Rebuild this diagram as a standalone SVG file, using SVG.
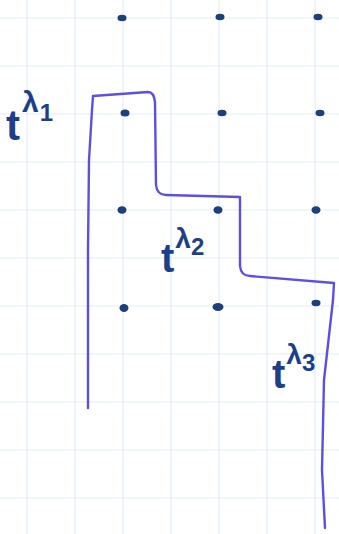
<svg xmlns="http://www.w3.org/2000/svg" width="339" height="534" viewBox="0 0 339 534">
<style>
.grid line{stroke:#e2eef6;stroke-width:1.2}
.dot{fill:#1d3f7a}
.pen{fill:none;stroke:#5b4fe6;stroke-width:2.4;stroke-linecap:round;stroke-linejoin:round}
.lbl{font-family:"Liberation Sans",sans-serif;fill:#1d3f8a;font-weight:bold}
</style>
<rect width="339" height="534" fill="#ffffff"/>
<g class="grid" id="grid">
<line x1="27" y1="0" x2="27" y2="534"/><line x1="75" y1="0" x2="75" y2="534"/><line x1="123" y1="0" x2="123" y2="534"/><line x1="171" y1="0" x2="171" y2="534"/><line x1="219" y1="0" x2="219" y2="534"/><line x1="267" y1="0" x2="267" y2="534"/><line x1="315" y1="0" x2="315" y2="534"/>
<line x1="0" y1="18" x2="339" y2="18"/><line x1="0" y1="66" x2="339" y2="66"/><line x1="0" y1="114" x2="339" y2="114"/><line x1="0" y1="162" x2="339" y2="162"/><line x1="0" y1="210" x2="339" y2="210"/><line x1="0" y1="258" x2="339" y2="258"/><line x1="0" y1="306" x2="339" y2="306"/><line x1="0" y1="354" x2="339" y2="354"/><line x1="0" y1="402" x2="339" y2="402"/><line x1="0" y1="450" x2="339" y2="450"/><line x1="0" y1="498" x2="339" y2="498"/>
</g>
<g id="dots">
<ellipse class="dot" cx="122" cy="18" rx="4.5" ry="3.2"/><ellipse class="dot" cx="220" cy="17" rx="4.5" ry="3.2"/><ellipse class="dot" cx="318" cy="17" rx="4.5" ry="3.2"/>
<ellipse class="dot" cx="125" cy="113" rx="4.5" ry="3.5"/><ellipse class="dot" cx="222" cy="113" rx="4.5" ry="3.2"/><ellipse class="dot" cx="320" cy="113" rx="4.5" ry="3.2"/>
<ellipse class="dot" cx="122" cy="210" rx="4.5" ry="3.8"/><ellipse class="dot" cx="218" cy="210" rx="4.5" ry="3.8"/><ellipse class="dot" cx="316" cy="210" rx="4.5" ry="3.8"/>
<ellipse class="dot" cx="124" cy="308" rx="4.5" ry="4"/><ellipse class="dot" cx="218" cy="307" rx="5.5" ry="4"/><ellipse class="dot" cx="316" cy="303" rx="4.5" ry="3.2"/>
</g>
<g id="connectors">
<path class="pen" d="M88 408 L88 250 L89 160 L92 110 L93 96 L148 92 Q154 92 155 102 L156 185 Q157 195 166 195 L240 197 L240 266 Q241 276 250 276 L334 283 L333 300 L324 380 L322 470 L325 528"/>
</g>
<g id="label1"><text class="lbl" x="6" y="140" font-size="42">t<tspan font-size="30" dx="2" dy="-28">λ</tspan><tspan font-size="24" dx="1" dy="9">1</tspan></text></g>
<g id="label2"><text class="lbl" x="161" y="272" font-size="40">t<tspan font-size="28" dx="1" dy="-24">λ</tspan><tspan font-size="24" dx="0" dy="7">2</tspan></text></g>
<g id="label3"><text class="lbl" x="272" y="388" font-size="40">t<tspan font-size="28" dx="1" dy="-24">λ</tspan><tspan font-size="24" dx="0" dy="7">3</tspan></text></g>
</svg>
